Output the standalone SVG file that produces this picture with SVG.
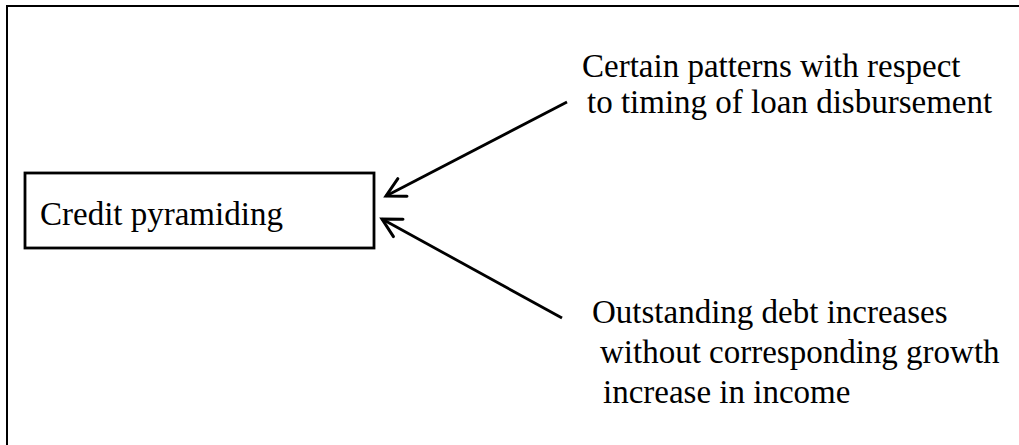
<svg xmlns="http://www.w3.org/2000/svg" width="1019" height="445" viewBox="0 0 1019 445">
<style>
  .t { font-family: "Liberation Serif", "Times New Roman", serif; font-size: 33px; fill: #000; }
  .ln { stroke: #000; stroke-width: 2.8; fill: none; }
</style>
<defs>
  <marker id="arr" markerUnits="userSpaceOnUse" markerWidth="30" markerHeight="30" viewBox="-25 -15 30 30" refX="0" refY="0" orient="auto" overflow="visible">
    <path d="M-18.5,-9.9 L0,0 L-18.5,9.9" fill="none" stroke="#000" stroke-width="3" stroke-linecap="round" stroke-linejoin="miter"/>
  </marker>
</defs>
<rect width="1019" height="445" fill="#fff"/>
<g id="frame">
  <path d="M6,6 L1019,6 M7,6 L7,445" stroke="#000" stroke-width="2" fill="none"/>
</g>
<g id="node-credit">
  <rect x="25" y="173" width="349" height="75" class="ln"/>
  <text x="40" y="225" class="t">Credit pyramiding</text>
</g>
<g id="node-patterns">
  <text x="582" y="77" class="t">Certain patterns with respect</text>
  <text x="587" y="113" class="t">to timing of loan disbursement</text>
</g>
<g id="node-debt">
  <text x="592" y="323" class="t">Outstanding debt increases</text>
  <text x="600" y="363" class="t">without corresponding growth</text>
  <text x="603" y="403" class="t">increase in income</text>
</g>
<g id="connectors">
  <line x1="567" y1="102" x2="386" y2="196" class="ln" marker-end="url(#arr)"/>
  <line x1="562" y1="318" x2="382" y2="219" class="ln" marker-end="url(#arr)"/>
</g>
</svg>
